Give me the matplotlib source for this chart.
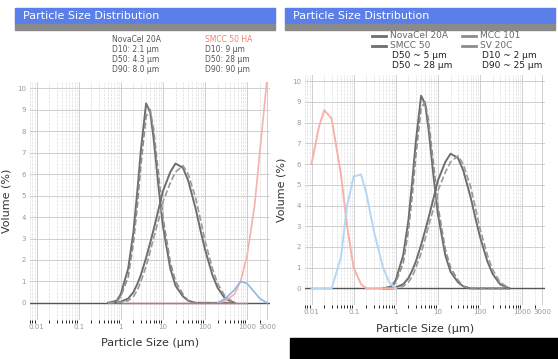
import numpy as np
import matplotlib.pyplot as plt
from matplotlib.patches import Rectangle

# particle size grid (µm) and volume fractions (%)
sizes = [0.5, 0.8, 1, 1.5, 2, 2.5, 3, 4, 5, 6, 8, 10, 15, 20, 30, 40, 60, 80, 100, 150, 200, 300, 500]
narrow_a = [0, 0.1, 0.4, 1.6, 3.3, 5.3, 7.1, 9.3, 8.9, 7.7, 5.3, 3.6, 1.6, 0.8, 0.3, 0.1, 0, 0, 0, 0, 0, 0, 0]
narrow_b = [0, 0.05, 0.3, 1.2, 2.8, 4.6, 6.4, 8.7, 9.0, 8.1, 5.9, 4.0, 1.9, 1.0, 0.4, 0.1, 0, 0, 0, 0, 0, 0, 0]
broad_a = [0, 0, 0.05, 0.2, 0.5, 0.9, 1.3, 2.1, 2.8, 3.4, 4.4, 5.2, 6.1, 6.5, 6.3, 5.7, 4.4, 3.3, 2.5, 1.3, 0.7, 0.2, 0]
broad_b = [0, 0, 0.02, 0.1, 0.3, 0.6, 1.0, 1.7, 2.4, 3.0, 3.9, 4.7, 5.6, 6.1, 6.4, 6.0, 4.9, 3.8, 2.9, 1.6, 0.9, 0.3, 0]

fine_sizes = [0.01, 0.015, 0.02, 0.03, 0.05, 0.07, 0.1, 0.15, 0.2, 0.3, 0.5, 0.7, 1.0]
fine_red = [6.0, 7.8, 8.6, 8.2, 5.5, 3.0, 1.0, 0.2, 0, 0, 0, 0, 0]
fine_blue = [0, 0, 0, 0, 1.5, 4.0, 5.4, 5.5, 4.6, 2.8, 1.0, 0.3, 0]

coarse_sizes = [200, 300, 500, 700, 1000, 1500, 2000, 3000]
coarse_red = [0, 0.1, 0.4, 1.0, 2.2, 4.5, 7.0, 10.5]
coarse_blue = [0, 0.2, 0.6, 1.0, 0.9, 0.5, 0.2, 0]

xticks = [0.01, 0.1, 1, 10, 100, 1000, 3000]
xtick_labels = ["0.01", "0.1", "1", "10", "100", "1000", "3000"]
yticks = list(range(0, 11))

legend_left_1 = ["NovaCel 20A", "D10: 2.1 µm", "D50: 4.3 µm", "D90: 8.0 µm"]
legend_left_2 = ["SMCC 50 HA", "D10: 9 µm", "D50: 28 µm", "D90: 90 µm"]
legend_right = ["NovaCel 20A", "MCC 101", "SMCC 50", "SV 20C"]
legend_right_d = ["D50 ~ 5 µm", "D10 ~ 2 µm", "D50 ~ 28 µm", "D90 ~ 25 µm"]

W, H = 558, 359
fig = plt.figure(figsize=(W / 100, H / 100), dpi=100)

def px(x0, y0, x1, y1):
    return [x0 / W, 1 - y1 / H, (x1 - x0) / W, (y1 - y0) / H]

shades = ["#6e6e6e", "#8c8c8c", "#9a9a9a", "#b5b5b5"]

def style(ax):
    ax.set_xscale("log")
    ax.set_xlim(0.007, 3500)
    ax.set_ylim(-0.8, 10.3)
    ax.set_xticks(xticks)
    ax.set_xticklabels(xtick_labels)
    ax.set_yticks(yticks)
    ax.tick_params(labelsize=5, colors="#999999", length=0, pad=3)
    ax.grid(True, which="major", color="#c8c8c8", lw=0.6)
    ax.grid(True, which="minor", axis="x", color="#dddddd", lw=0.5, ls="--")
    for s in ax.spines.values():
        s.set_visible(False)
    ax.axhline(0, color="#555555", lw=1.0)
    ax.set_xlabel("Particle Size (µm)", fontsize=8, color="#333333", labelpad=6)
    ax.set_ylabel("Volume (%)", fontsize=8, color="#333333")

def draw_grey(ax):
    ax.plot(sizes, narrow_a, color=shades[0], lw=1.4)
    ax.plot(sizes, narrow_b, color=shades[1], lw=1.2, ls="--")
    ax.plot(sizes, broad_a, color=shades[0], lw=1.4)
    ax.plot(sizes, broad_b, color=shades[2], lw=1.2, ls="--")

# left panel
ax1 = fig.add_axes(px(30, 82, 270, 320))
style(ax1)
draw_grey(ax1)
ax1.plot(coarse_sizes, coarse_red, color="#f6b2aa", lw=1.2)
ax1.plot(coarse_sizes, coarse_blue, color="#8fb8e8", lw=1.2)
ax1.plot([1, 1000], [0, 0], color="#e06a5a", lw=0.9)

# right panel
ax2 = fig.add_axes(px(305, 75, 545, 305))
style(ax2)
draw_grey(ax2)
ax2.plot(fine_sizes, fine_red, color="#f6b2aa", lw=1.4)
ax2.plot(fine_sizes, fine_blue, color="#b5d6f5", lw=1.4)

# title bands
for x0, x1, txt in [(15, 275, "Particle Size Distribution"), (285, 555, "Particle Size Distribution")]:
    fig.patches.append(Rectangle((x0 / W, 1 - 24 / H), (x1 - x0) / W, 16 / H,
                                 transform=fig.transFigure, color="#5b7fe8"))
    fig.patches.append(Rectangle((x0 / W, 1 - 30 / H), (x1 - x0) / W, 6 / H,
                                 transform=fig.transFigure, color="#8a8a8a"))
    fig.text((x0 + 8) / W, 1 - 16 / H, txt, fontsize=8, color="white", va="center")

# left legend text
for i, t in enumerate(legend_left_1):
    fig.text(112 / W, 1 - (40 + i * 10) / H, t, fontsize=5.5, color="#555555", va="center")
for i, t in enumerate(legend_left_2):
    c = "#f08070" if i == 0 else "#555555"
    fig.text(205 / W, 1 - (40 + i * 10) / H, t, fontsize=5.5, color=c, va="center")

# right legend
for i, t in enumerate(legend_right):
    col, row = i % 2, i // 2
    lx = 372 + col * 90
    ly = 36 + row * 10
    fig.lines.append(plt.Line2D([lx / W, (lx + 14) / W], [1 - ly / H, 1 - ly / H],
                                transform=fig.transFigure, color=shades[col], lw=2))
    fig.text((lx + 18) / W, 1 - ly / H, t, fontsize=6.5, color="#666666", va="center")
for i, t in enumerate(legend_right_d):
    col, row = i % 2, i // 2
    fig.text((392 + col * 90) / W, 1 - (56 + row * 9) / H, t, fontsize=6.5, color="#222222", va="center")

# dark footer strip
fig.patches.append(Rectangle((290 / W, 0), (W - 290) / W, 21 / H,
                             transform=fig.transFigure, color="black"))

fig.savefig("out.png", dpi=100)
